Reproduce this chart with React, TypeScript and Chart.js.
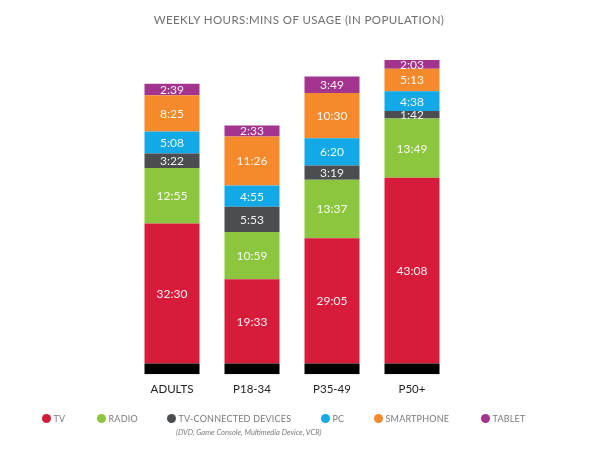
import React, { useEffect, useRef } from "react";
import { Chart, registerables } from "chart.js";

Chart.register(...registerables);

const categories = ["ADULTS", "P18-34", "P35-49", "P50+"];
const tv = ["32:30", "19:33", "29:05", "43:08"];
const radio = ["12:55", "10:59", "13:37", "13:49"];
const devices = ["3:22", "5:53", "3:19", "1:42"];
const pc = ["5:08", "4:55", "6:20", "4:38"];
const smartphone = ["8:25", "11:26", "10:30", "5:13"];
const tablet = ["2:39", "2:33", "3:49", "2:03"];
const baseBlock = [2.5, 2.5, 2.5, 2.5];

const seriesNames = ["TV", "RADIO", "TV-CONNECTED DEVICES", "PC", "SMARTPHONE", "TABLET"];
const seriesColors = ["#d71c3b", "#8cc63f", "#4b4d51", "#12a9e6", "#f48a2b", "#a2348e"];
const seriesLabels = [tv, radio, devices, pc, smartphone, tablet];

const toHours = (s: string) => {
  const [h, m] = s.split(":").map(Number);
  return h + m / 60;
};

const FONT = "Lato, 'Open Sans', sans-serif";

const labelPlugin = {
  id: "segLabels",
  afterDatasetsDraw(chart: any) {
    const ctx = chart.ctx;
    ctx.save();
    ctx.font = `12px ${FONT}`;
    ctx.fillStyle = "rgba(255,255,255,0.92)";
    ctx.textAlign = "center";
    ctx.textBaseline = "middle";
    chart.data.datasets.forEach((ds: any, di: number) => {
      if (!ds.timeLabels) return;
      const meta = chart.getDatasetMeta(di);
      meta.data.forEach((bar: any, i: number) => {
        const yc = (bar.y + bar.base) / 2;
        ctx.fillText(ds.timeLabels[i], bar.x, yc + 0.5);
      });
    });
    ctx.restore();
  },
};

export default function App() {
  const ref = useRef<HTMLCanvasElement>(null);
  useEffect(() => {
    if (!ref.current) return;
    const datasets: any[] = [
      {
        label: "base",
        data: baseBlock,
        backgroundColor: "#000000",
        borderWidth: 0,
      },
      ...seriesNames.map((name, k) => ({
        label: name,
        data: seriesLabels[k].map(toHours),
        timeLabels: seriesLabels[k],
        backgroundColor: seriesColors[k],
        borderWidth: 0,
      })),
    ];
    const chart = new Chart(ref.current, {
      type: "bar",
      data: { labels: categories, datasets },
      options: {
        animation: false,
        responsive: false,
        devicePixelRatio: 1,
        layout: { padding: { left: 132, right: 146, top: 30, bottom: 47 } },
        datasets: { bar: { categoryPercentage: 1, barPercentage: 0.6875 } },
        plugins: { legend: { display: false }, tooltip: { enabled: false }, title: { display: false } },
        scales: {
          x: {
            stacked: true,
            grid: { display: false, drawTicks: false },
            border: { display: false },
            ticks: { color: "#222", font: { family: FONT, size: 11.5 }, padding: 8 },
          },
          y: { stacked: true, display: false, min: 0, max: 80 },
        },
      },
      plugins: [labelPlugin],
    });
    return () => chart.destroy();
  }, []);

  const legendPos = [46, 101, 171, 325, 378, 485];
  return (
    <div style={{ position: "fixed", left: 0, top: 0, width: 598, height: 451, background: "#fff", fontFamily: FONT }}>
      <canvas ref={ref} width={598} height={451} style={{ position: "absolute", left: 0, top: 0 }} />
      <div
        style={{
          position: "absolute",
          left: 0,
          width: 598,
          top: 13,
          textAlign: "center",
          color: "#6f6f6f",
          fontSize: 11.5,
          letterSpacing: 0.4,
          paddingLeft: 0,
        }}
      >
        WEEKLY HOURS:MINS OF USAGE (IN POPULATION)
      </div>
      {seriesNames.map((name, k) => (
        <div
          key={name}
          style={{
            position: "absolute",
            left: legendPos[k] - 4.5,
            top: 413,
            display: "flex",
            alignItems: "center",
            whiteSpace: "nowrap",
          }}
        >
          <span
            style={{
              display: "inline-block",
              width: 9,
              height: 9,
              borderRadius: "50%",
              background: seriesColors[k],
              marginRight: 3,
            }}
          />
          <span style={{ fontSize: 9, color: "#7a7a7a", letterSpacing: 0.2 }}>{name}</span>
        </div>
      ))}
      <div
        style={{
          position: "absolute",
          left: 176,
          top: 428,
          fontSize: 7.5,
          fontStyle: "italic",
          color: "#7a7a7a",
          whiteSpace: "nowrap",
        }}
      >
        (DVD, Game Console, Multimedia Device, VCR)
      </div>
    </div>
  );
}
